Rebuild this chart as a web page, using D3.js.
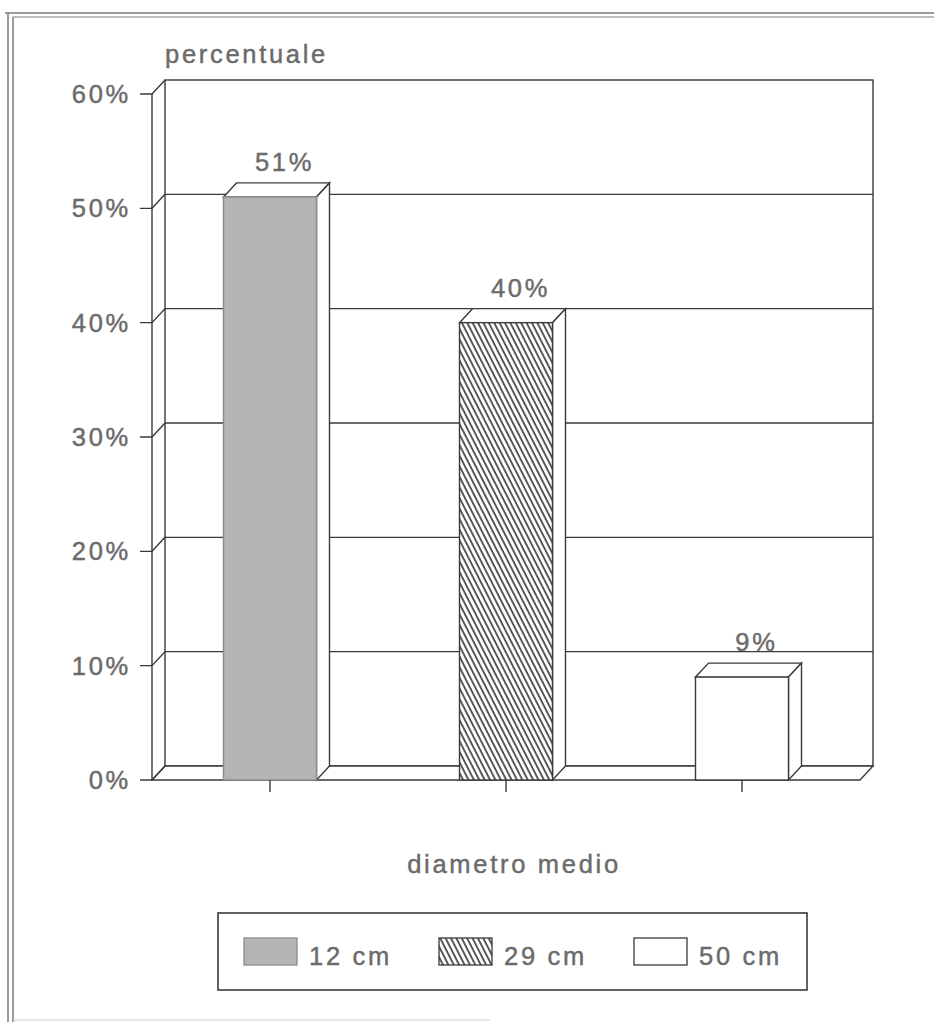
<!DOCTYPE html>
<html>
<head>
<meta charset="utf-8">
<script src="https://cdn.jsdelivr.net/npm/d3@7"></script>
<style>
  body { margin: 0; background: #fff; }
  text { font-family: "Liberation Sans", Arial, sans-serif; fill: #6b6b6b; stroke: #6b6b6b; stroke-width: 0.45px; font-size: 25.5px; letter-spacing: 2.7px; }
</style>
</head>
<body>
<svg width="934" height="1022"></svg>
<script>
const categories = ["12 cm", "29 cm", "50 cm"];
const values = [51, 40, 9];
const yTicks = [0, 10, 20, 30, 40, 50, 60];
const yTitle = "percentuale";
const xTitle = "diametro medio";

const svg = d3.select("svg");
const ink = "#3a3a3a";
const dx = 13, dy = 14;   // 3D depth offset

const defs = svg.append("defs");
defs.append("pattern")
    .attr("id", "hatch")
    .attr("patternUnits", "userSpaceOnUse")
    .attr("width", 4.8).attr("height", 10)
    .attr("patternTransform", "rotate(-27)")
  .call(p => {
    p.append("rect").attr("width", 4.8).attr("height", 10).attr("fill", "#fff");
    p.append("line").attr("x1", 1).attr("x2", 1).attr("y1", 0).attr("y2", 10)
      .attr("stroke", "#333").attr("stroke-width", 1.6);
  });

const fills = ["#b4b6b5", "url(#hatch)", "#ffffff"];

// page frame
const frame = svg.append("g").attr("stroke", "#7a7a7a").attr("fill", "none");
frame.append("line").attr("x1", 5).attr("x2", 934).attr("y1", 13).attr("y2", 13).attr("stroke-width", 1.5);
frame.append("line").attr("x1", 13).attr("x2", 934).attr("y1", 17).attr("y2", 17);
frame.append("line").attr("x1", 8).attr("x2", 8).attr("y1", 13).attr("y2", 1022).attr("stroke-width", 1.5);
frame.append("line").attr("x1", 13).attr("x2", 13).attr("y1", 17).attr("y2", 1022).attr("stroke-width", 1.5);
frame.append("line").attr("x1", 13).attr("x2", 490).attr("y1", 1020).attr("y2", 1020).attr("stroke", "#ccc");

const x = d3.scaleBand()
    .domain(categories)
    .range([152, 860])
    .paddingInner(0.606)
    .paddingOuter(0.303);

const y = d3.scaleLinear()
    .domain([0, 60])
    .range([780, 94]);

const x0 = x.range()[0], x1 = x.range()[1];
const yTop = y(60), yBase = y(0);

const g = svg.append("g").attr("stroke", ink).attr("stroke-width", 1.4);

// back wall
g.append("rect")
    .attr("x", x0 + dx).attr("y", yTop - dy)
    .attr("width", x1 - x0).attr("height", yBase - yTop)
    .attr("fill", "#fff");

// gridlines on back wall
g.selectAll(".grid")
    .data(yTicks.slice(1, -1))
    .enter().append("line")
    .attr("class", "grid")
    .attr("x1", x0 + dx).attr("x2", x1 + dx)
    .attr("y1", d => y(d) - dy).attr("y2", d => y(d) - dy);

// floor
g.append("path")
    .attr("fill", "#fff")
    .attr("d", `M${x0},${yBase} L${x0 + dx},${yBase - dy} L${x1 + dx},${yBase - dy} L${x1},${yBase} Z`);

// bars
const bars = g.selectAll(".bar")
    .data(values)
    .enter().append("g")
    .attr("class", "bar");

bars.append("path")
    .attr("fill", "#fff")
    .attr("d", (d, i) => {
      const a = x(categories[i]), b = a + x.bandwidth(), t = y(d);
      return `M${a},${t} L${a + dx},${t - dy} L${b + dx},${t - dy} L${b},${t} Z`;
    });

bars.append("path")
    .attr("fill", "#fff")
    .attr("d", (d, i) => {
      const b = x(categories[i]) + x.bandwidth(), t = y(d);
      return `M${b},${t} L${b + dx},${t - dy} L${b + dx},${yBase - dy} L${b},${yBase} Z`;
    });

bars.append("rect")
    .attr("x", (d, i) => x(categories[i]))
    .attr("y", d => y(d))
    .attr("width", x.bandwidth())
    .attr("height", d => yBase - y(d))
    .attr("fill", (d, i) => fills[i])
    .attr("stroke", (d, i) => i === 0 ? "#8a8a8a" : ink);

// value labels
svg.selectAll(".value")
    .data(values)
    .enter().append("text")
    .attr("class", "value")
    .attr("x", (d, i) => x(categories[i]) + x.bandwidth() / 2 + dx + 1.5)
    .attr("y", d => y(d) - dy - 12)
    .attr("text-anchor", "middle")
    .text(d => d + "%");

// front y axis with depth connectors
g.append("line")
    .attr("x1", x0).attr("x2", x0)
    .attr("y1", yTop).attr("y2", yBase);

g.selectAll(".ytick")
    .data(yTicks)
    .enter().append("path")
    .attr("class", "ytick")
    .attr("fill", "none")
    .attr("d", d => `M${x0 - 12},${y(d)} L${x0},${y(d)} L${x0 + dx},${y(d) - dy}`);

svg.selectAll(".ylabel")
    .data(yTicks)
    .enter().append("text")
    .attr("class", "ylabel")
    .attr("x", 131)
    .attr("y", d => y(d) + 9)
    .attr("text-anchor", "end")
    .text(d => d + "%");

// x ticks
g.selectAll(".xtick")
    .data(categories)
    .enter().append("line")
    .attr("class", "xtick")
    .attr("x1", d => x(d) + x.bandwidth() / 2)
    .attr("x2", d => x(d) + x.bandwidth() / 2)
    .attr("y1", yBase).attr("y2", yBase + 12);

// titles
svg.append("text").attr("x", 165).attr("y", 63).text(yTitle);
svg.append("text").attr("x", 514).attr("y", 873).attr("text-anchor", "middle").text(xTitle);

// legend
const legend = svg.append("g");
legend.append("rect")
    .attr("x", 218).attr("y", 913)
    .attr("width", 589).attr("height", 77)
    .attr("fill", "#fff").attr("stroke", ink).attr("stroke-width", 1.6);

const items = legend.selectAll(".item")
    .data(categories)
    .enter().append("g")
    .attr("class", "item")
    .attr("transform", (d, i) => `translate(${244 + i * 195},938)`);

items.append("rect")
    .attr("width", 53).attr("height", 27)
    .attr("fill", (d, i) => fills[i])
    .attr("stroke", (d, i) => i === 0 ? "#8a8a8a" : ink)
    .attr("stroke-width", 1.3);

items.append("text")
    .attr("x", 65).attr("y", 27)
    .text(d => d);
</script>
</body>
</html>
